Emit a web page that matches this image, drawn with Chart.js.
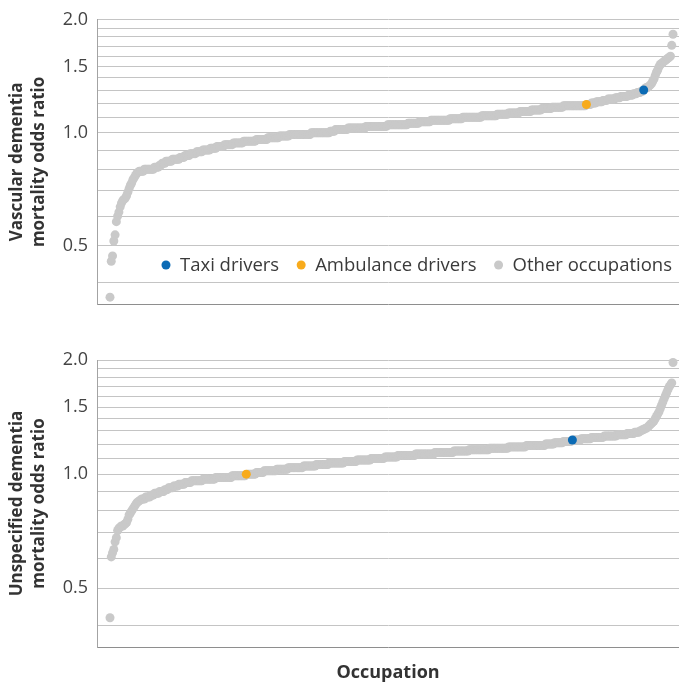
<!DOCTYPE html>
<html lang="en">
<head>
<meta charset="utf-8">
<title>Dementia mortality odds ratios by occupation</title>
<script src="https://cdn.jsdelivr.net/npm/chart.js@4.4.1/dist/chart.umd.min.js"></script>
<style>
  html, body { margin: 0; padding: 0; background: #ffffff; }
  #wrap { position: relative; width: 679px; height: 684px; overflow: hidden; }
  canvas { position: absolute; left: 0; }
  #vascular { top: 0; }
  #unspecified { top: 330px; }
</style>
</head>
<body>
<div id="wrap">
  <canvas id="vascular" width="679" height="330"></canvas>
  <canvas id="unspecified" width="679" height="354"></canvas>
</div>
<script>
// Series names and colours
const groupLabels = ['Taxi drivers', 'Ambulance drivers', 'Other occupations'];
const groupColors = ['#0b6bb5', '#f8ab1c', '#c9c9c9'];

// Log-axis gridlines and the ones that carry a label
const yGridValues = [0.4, 0.5, 0.6, 0.7, 0.8, 0.9, 1.0, 1.1, 1.2, 1.3, 1.4, 1.5, 1.6, 1.7, 1.8, 1.9, 2.0];
const yLabelValues = [0.5, 1.0, 1.5, 2.0];
const yLabelTexts = ['0.5', '1.0', '1.5', '2.0'];

// Vascular dementia mortality odds ratios
const vascularTaxi = 1.30;
const vascularAmbulance = 1.19;
const vascularOther = [
  0.365,0.455,0.47,0.515,0.535,0.58,0.60,0.615,0.635,0.65,0.66,0.665,0.67,0.68,0.695,0.71,0.725,0.735,0.75,0.76,0.77,0.78,0.785,0.79,
  0.79,0.79,0.79,0.80,0.80,0.80,0.80,0.80,0.80,0.80,0.80,0.81,0.81,0.81,0.81,0.82,0.82,
  0.83,0.83,0.83,0.84,0.84,0.84,0.84,0.84,0.85,0.85,0.85,0.85,0.85,0.85,0.86,0.86,
  0.86,0.86,0.87,0.87,0.87,0.87,0.88,0.88,0.88,0.88,0.88,0.89,0.89,0.89,0.89,0.89,0.90,0.90,0.90,0.90,0.90,0.90,0.91,0.91,
  0.91,0.91,0.91,0.92,0.92,0.92,0.92,0.92,0.92,0.93,0.93,0.93,0.93,0.93,0.93,0.93,0.94,0.94,0.94,0.94,0.94,0.94,0.94,0.94,0.95,0.95,
  0.95,0.95,0.95,0.95,0.95,0.95,0.95,0.95,
  0.96,0.96,0.96,0.96,0.96,0.96,0.96,0.96,0.96,
  0.97,0.97,0.97,0.97,0.97,0.97,0.97,0.97,0.97,
  0.98,0.98,0.98,0.98,0.98,0.98,0.98,0.98,
  0.99,0.99,0.99,0.99,0.99,
  0.99,0.99,0.99,0.99,0.99,0.99,0.99,0.99,0.99,0.99,0.99,0.99,
  1.00,1.00,1.00,1.00,1.00,1.00,1.00,1.00,1.00,1.00,1.00,1.00,1.00,1.00,1.00,
  1.01,1.01,1.01,1.01,
  1.02,1.02,1.02,1.02,1.02,1.02,1.02,1.02,1.02,1.02,
  1.03,1.03,1.03,1.03,1.03,1.03,1.03,1.03,
  1.03,1.03,1.03,1.03,1.03,1.03,
  1.04,1.04,1.04,1.04,1.04,1.04,1.04,1.04,1.04,1.04,1.04,1.04,1.04,1.04,1.04,1.04,1.04,
  1.05,1.05,1.05,1.05,1.05,1.05,1.05,1.05,1.05,1.05,1.05,1.05,1.05,1.05,1.05,1.05,
  1.06,1.06,1.06,1.06,1.06,1.06,1.06,1.06,1.06,
  1.07,1.07,1.07,1.07,1.07,1.07,1.07,1.07,1.07,
  1.08,1.08,1.08,1.08,1.08,1.08,1.08,
  1.08,1.08,1.08,1.08,1.08,1.08,1.08,1.08,
  1.09,1.09,1.09,1.09,1.09,1.09,1.09,1.09,1.09,1.09,
  1.10,1.10,1.10,1.10,1.10,1.10,1.10,1.10,1.10,
  1.10,1.10,1.10,1.10,1.10,1.10,
  1.11,1.11,1.11,1.11,1.11,1.11,1.11,1.11,1.11,1.11,1.11,1.11,
  1.12,1.12,1.12,1.12,1.12,1.12,1.12,1.12,1.12,
  1.13,1.13,1.13,1.13,1.13,1.13,1.13,1.13,1.13,
  1.14,1.14,1.14,1.14,1.14,1.14,1.14,1.14,1.14,
  1.15,1.15,1.15,1.15,1.15,1.15,1.15,1.15,
  1.16,1.16,1.16,1.16,1.16,1.16,1.16,1.16,
  1.17,1.17,1.17,1.17,1.17,1.17,1.17,1.17,1.17,
  1.18,1.18,1.18,1.18,1.18,1.18,1.18,1.18,
  1.18,1.18,1.18,1.18,1.18,1.18,1.18,1.18,1.18,1.18,
  1.19,1.19,1.19,1.20,1.20,1.20,1.20,1.21,1.21,1.21,1.21,1.21,1.22,1.22,1.22,1.22,
  1.23,1.23,1.23,1.23,1.23,1.23,1.24,1.24,1.24,1.24,1.25,1.25,1.25,
  1.25,1.25,1.25,1.26,1.26,1.26,1.26,1.27,1.27,1.27,1.28,1.28,1.28,1.29,1.29,
  1.31,1.32,1.32,1.33,1.34,1.35,1.37,1.39,1.42,1.45,1.47,1.50,1.52,1.53,1.54,1.55,1.56,1.57,1.58,1.59,1.60,1.71,1.83
];

// Unspecified dementia mortality odds ratios
const unspecifiedTaxi = 1.23;
const unspecifiedAmbulance = 1.00;
const unspecifiedOther = [
  0.418,0.605,0.62,0.633,0.663,0.68,0.71,0.72,0.725,0.73,0.73,0.735,0.74,0.745,0.76,0.78,0.79,0.80,0.81,0.82,0.83,0.84,0.845,0.85,0.855,
  0.86,0.86,0.86,0.87,0.87,0.87,0.87,
  0.88,0.88,0.88,0.89,0.89,0.89,0.89,0.90,0.90,0.90,0.90,0.91,0.91,0.91,
  0.92,0.92,0.92,0.92,0.93,0.93,0.93,0.93,0.94,0.94,0.94,0.94,0.94,0.95,0.95,0.95,
  0.95,0.95,
  0.96,0.96,0.96,0.96,0.96,0.96,0.96,0.96,0.96,
  0.97,0.97,0.97,0.97,0.97,0.97,0.97,0.97,0.97,0.97,
  0.98,0.98,0.98,0.98,0.98,0.98,0.98,0.98,0.98,0.98,0.98,
  0.98,0.98,0.99,0.99,0.99,0.99,0.99,0.99,0.99,0.99,0.99,0.99,0.99,
  1.00,1.00,1.00,1.00,1.00,1.00,1.00,
  1.01,1.01,1.01,1.01,1.01,1.01,
  1.02,1.02,1.02,1.02,1.02,1.02,1.02,1.02,1.02,1.02,
  1.03,1.03,1.03,1.03,1.03,1.03,1.03,1.03,1.03,
  1.04,1.04,1.04,1.04,1.04,1.04,
  1.04,1.04,1.04,1.04,1.04,1.04,
  1.05,1.05,1.05,1.05,1.05,1.05,1.05,1.05,1.05,1.05,
  1.06,1.06,1.06,1.06,1.06,1.06,1.06,1.06,1.06,1.06,
  1.07,1.07,1.07,1.07,1.07,1.07,1.07,1.07,1.07,
  1.07,1.07,1.07,
  1.08,1.08,1.08,1.08,1.08,1.08,1.08,1.08,1.08,1.08,
  1.09,1.09,1.09,1.09,1.09,1.09,1.09,1.09,1.09,1.09,1.09,
  1.10,1.10,1.10,1.10,1.10,1.10,1.10,1.10,1.10,1.10,1.10,
  1.11,1.11,1.11,1.11,1.11,1.11,1.11,1.11,1.11,1.11,
  1.12,1.12,1.12,1.12,1.12,1.12,1.12,1.12,
  1.12,1.12,1.12,1.12,1.12,1.12,
  1.13,1.13,1.13,1.13,1.13,1.13,1.13,1.13,1.13,1.13,1.13,1.13,1.13,1.13,1.13,
  1.14,1.14,1.14,1.14,1.14,1.14,1.14,1.14,1.14,1.14,1.14,1.14,1.14,1.14,1.14,
  1.15,1.15,1.15,1.15,1.15,1.15,1.15,1.15,1.15,1.15,1.15,1.15,
  1.16,1.16,1.16,1.16,
  1.16,1.16,1.16,1.16,1.16,1.16,1.16,1.16,1.16,1.16,1.16,1.16,
  1.17,1.17,1.17,1.17,1.17,1.17,1.17,1.17,1.17,1.17,1.17,1.17,1.17,1.17,1.17,
  1.18,1.18,1.18,1.18,1.18,1.18,1.18,1.18,1.18,1.18,1.18,1.18,1.18,1.18,
  1.19,1.19,1.19,1.19,1.19,1.19,1.19,1.19,1.19,1.19,1.19,1.19,
  1.19,1.19,1.19,
  1.20,1.20,1.20,1.20,1.20,1.20,1.20,
  1.21,1.21,1.21,1.21,1.21,1.21,1.21,
  1.22,1.22,1.22,1.22,1.22,1.22,1.22,
  1.23,1.23,1.23,1.23,1.23,1.23,
  1.24,1.24,1.24,1.24,1.24,1.24,1.24,1.24,
  1.25,1.25,1.25,1.25,1.25,1.25,1.25,1.25,1.25,1.25,
  1.26,1.26,1.26,1.26,1.26,1.26,1.26,1.26,1.26,1.26,
  1.27,1.27,1.27,1.27,1.27,1.27,1.27,1.27,
  1.28,1.28,1.28,1.28,1.28,1.28,
  1.29,1.29,1.29,
  1.29,1.30,1.30,1.31,1.31,1.32,1.32,1.33,1.34,1.35,1.36,1.37,1.38,1.40,1.42,1.44,1.46,1.49,1.52,1.55,1.58,1.61,1.64,1.67,1.70,1.72,1.74,1.97
];

const FONT = '"Open Sans", "Noto Sans", "DejaVu Sans", sans-serif';

// Rank every occupation by its odds ratio; the rank is the x position.
function rankedDatasets(taxi, ambulance, other) {
  const rows = [
    { v: taxi, g: 0 },
    { v: ambulance, g: 1 },
    ...other.map(v => ({ v, g: 2 }))
  ];
  rows.sort((a, b) => (a.v - b.v) || (a.g - b.g));
  const groups = [[], [], []];
  rows.forEach((r, i) => groups[r.g].push({ x: i, y: r.v }));
  return {
    count: rows.length,
    datasets: groups.map((data, g) => ({
      label: groupLabels[g],
      data,
      backgroundColor: groupColors[g],
      borderWidth: 0,
      pointRadius: 4.5,
      pointHoverRadius: 4.5,
      clip: false
    }))
  };
}

// Legend drawn inside the plot area, along its lower edge
const insideLegend = {
  id: 'insideLegend',
  afterDraw(chart, args, opts) {
    if (!opts.display) return;
    const { ctx, chartArea } = chart;
    const sets = chart.data.datasets;
    ctx.save();
    ctx.font = '18.5px ' + FONT;
    ctx.textBaseline = 'middle';
    ctx.textAlign = 'left';
    const r = 4.5, dotToText = 14, textToDot = 22;
    const widths = sets.map(ds => ctx.measureText(ds.label).width);
    let total = 0;
    widths.forEach((w, i) => { total += dotToText + w + (i < widths.length - 1 ? textToDot : 0); });
    let x = chartArea.right - opts.rightGap - total;
    const y = chartArea.bottom - opts.bottomGap;
    sets.forEach((ds, i) => {
      ctx.fillStyle = ds.backgroundColor;
      ctx.beginPath();
      ctx.arc(x, y, r, 0, Math.PI * 2);
      ctx.fill();
      ctx.fillStyle = '#3a3a3a';
      ctx.fillText(ds.label, x + dotToText, y + 1);
      x += dotToText + widths[i] + textToDot;
    });
    ctx.restore();
  }
};

function makeChart(canvasId, ranked, yTitle, opts) {
  return new Chart(document.getElementById(canvasId), {
    type: 'scatter',
    data: { datasets: ranked.datasets },
    plugins: [insideLegend],
    options: {
      responsive: false,
      animation: false,
      devicePixelRatio: 1,
      layout: { autoPadding: false, padding: { top: opts.padTop, left: 0, right: 0, bottom: 0 } },
      plugins: {
        legend: { display: false },
        tooltip: { enabled: false },
        insideLegend: { display: opts.legend, rightGap: 7, bottomGap: 39 }
      },
      scales: {
        x: {
          type: 'linear',
          min: -10.2,
          max: ranked.count - 1 + 4.7,
          ticks: { display: false },
          grid: { display: false, drawTicks: false },
          border: { display: true, color: '#8e8e8e', width: 1 },
          title: {
            display: opts.xTitle,
            text: 'Occupation',
            color: '#333333',
            font: { family: FONT, size: 18, weight: 'bold', lineHeight: 1.2 },
            padding: { top: 0, bottom: 0 }
          },
          afterFit: s => { s.height = opts.xHeight; }
        },
        y: {
          type: 'logarithmic',
          min: 0.35,
          max: 2.0,
          afterBuildTicks: s => { s.ticks = yGridValues.map(v => ({ value: v })); },
          afterFit: s => { s.width = 97; },
          ticks: {
            autoSkip: false,
            padding: 9,
            color: '#444444',
            font: { family: FONT, size: 18 },
            callback: v => {
              const k = yLabelValues.findIndex(t => Math.abs(t - v) < 1e-6);
              return k >= 0 ? yLabelTexts[k] : '';
            }
          },
          grid: { color: '#c4c4c4', lineWidth: 1, drawTicks: false },
          border: { display: true, color: '#a3a3a3', width: 1 },
          title: {
            display: true,
            text: yTitle,
            color: '#333333',
            font: { family: FONT, size: 17, weight: 'bold', lineHeight: 1.3 },
            padding: { top: 6.5, bottom: 0 }
          }
        }
      }
    }
  });
}

makeChart('vascular',
  rankedDatasets(vascularTaxi, vascularAmbulance, vascularOther),
  ['Vascular dementia', 'mortality odds ratio'],
  { padTop: 17, xHeight: 26, xTitle: false, legend: true });

makeChart('unspecified',
  rankedDatasets(unspecifiedTaxi, unspecifiedAmbulance, unspecifiedOther),
  ['Unspecified dementia', 'mortality odds ratio'],
  { padTop: 30, xHeight: 37, xTitle: true, legend: false });
</script>
</body>
</html>
